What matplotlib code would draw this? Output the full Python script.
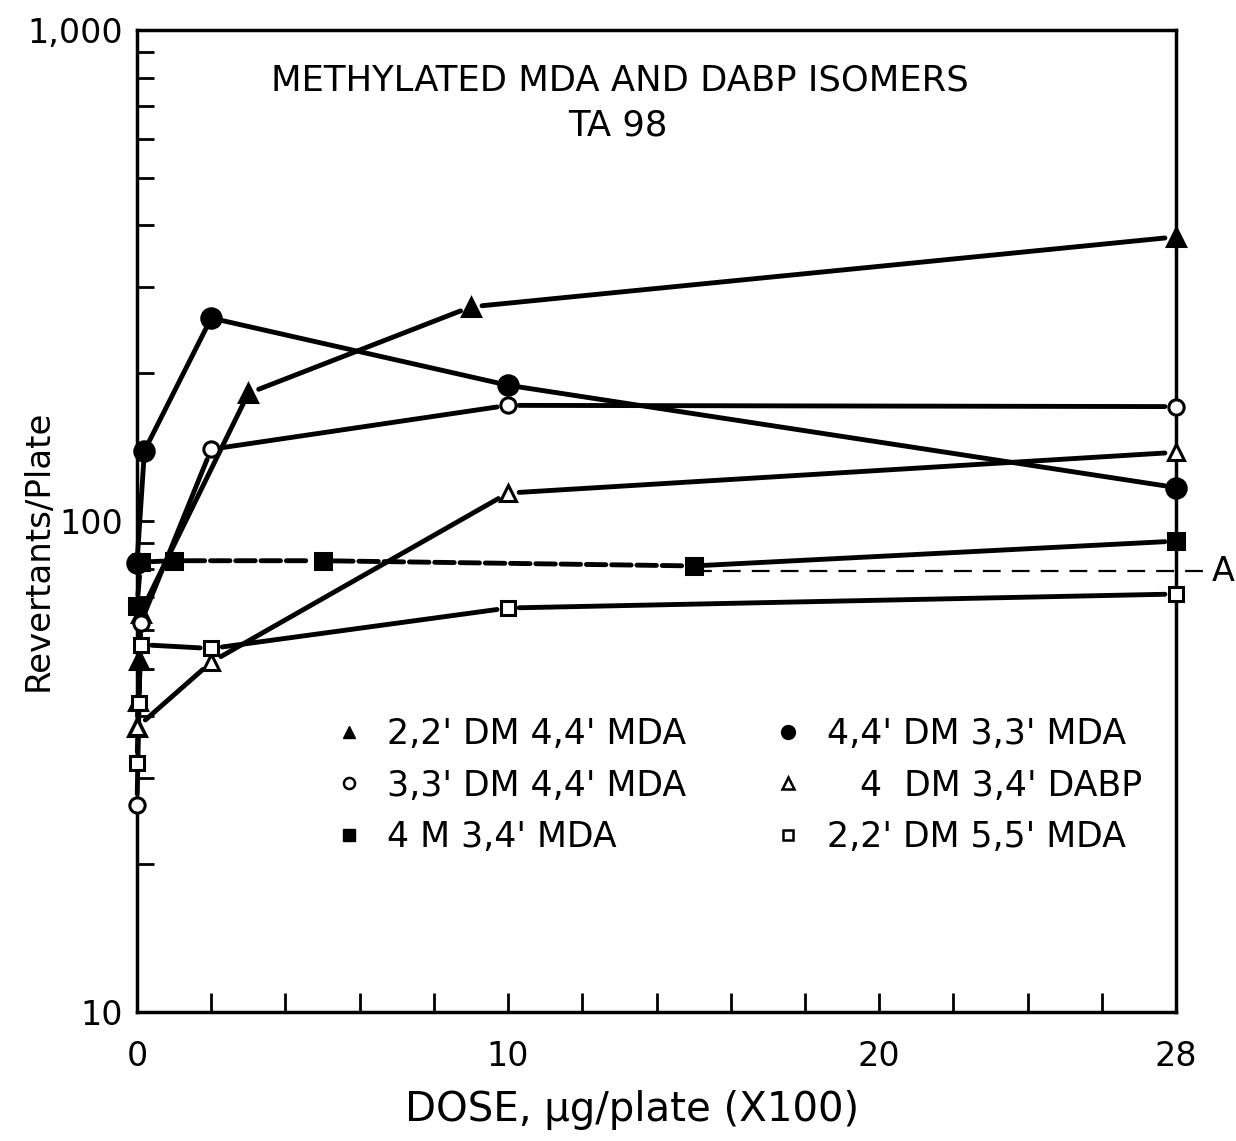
import numpy as np
import matplotlib
matplotlib.use("Agg")
import matplotlib.pyplot as plt
from matplotlib.lines import Line2D
from matplotlib.ticker import FixedLocator, LogLocator, NullFormatter

plt.rcParams['font.family'] = ['DejaVu Sans']

# dose in ug/plate (x100), revertants/plate
x_tri_f = [0, 0.03, 0.06, 0.1, 3, 9, 28]
y_tri_f = [38, 43, 52, 65, 182, 273, 379]
lab_tri_f = "2,2' DM 4,4' MDA"

x_circ_o = [0, 0.1, 2, 10, 28]
y_circ_o = [26.4, 62, 140, 172, 171]
lab_circ_o = "3,3' DM 4,4' MDA"

x_sq_f = [0, 0.1, 1, 5, 15, 28]
y_sq_f = [67, 82.5, 83, 83, 81, 91]
lab_sq_f = "4 M 3,4' MDA"

x_circ_f = [0, 0.2, 2, 10, 28]
y_circ_f = [82, 139, 259, 189, 117]
lab_circ_f = "4,4' DM 3,3' MDA"

x_tri_o = [0, 2, 10, 28]
y_tri_o = [38, 51.6, 114, 138]
lab_tri_o = "   4  DM 3,4' DABP"

x_sq_o = [0, 0.05, 0.1, 2, 10, 28]
y_sq_o = [32.2, 42.6, 56, 55, 66.5, 71]
lab_sq_o = "2,2' DM 5,5' MDA"

# spontaneous level (line A)
x_ref = [15, 28.85]
y_ref = [79, 79]

LW = 3.5
DASH = (0, (4, 1.2))


def draw_series(ax, xs, ys, marker, filled, ms, dashed_until=None):
    # segments stop short of the markers, like the hand-drawn original
    for i in range(len(xs) - 1):
        ls = DASH if dashed_until is not None and xs[i + 1] <= dashed_until else '-'
        ax.annotate('', xy=(xs[i + 1], ys[i + 1]), xytext=(xs[i], ys[i]),
                    arrowprops=dict(arrowstyle='-', lw=LW, color='k',
                                    shrinkA=8, shrinkB=8, linestyle=ls),
                    annotation_clip=False)
    ax.plot(xs, ys, ls='none', marker=marker, ms=ms,
            mfc='k' if filled else 'white', mec='k', mew=2.2,
            clip_on=False, zorder=4)


fig = plt.figure(figsize=(12.36, 11.41), dpi=100)
ax = fig.add_axes([137 / 1236, 1 - 1012 / 1141, 1039 / 1236, 982 / 1141])
ax.set_yscale('log')
ax.set_xlim(0, 28)
ax.set_ylim(10, 1000)

draw_series(ax, x_tri_f, y_tri_f, '^', True, 13)
draw_series(ax, x_circ_o, y_circ_o, 'o', False, 11)
draw_series(ax, x_sq_f, y_sq_f, 's', True, 11, dashed_until=15)
draw_series(ax, x_circ_f, y_circ_f, 'o', True, 14)
draw_series(ax, x_tri_o, y_tri_o, '^', False, 11)
draw_series(ax, x_sq_o, y_sq_o, 's', False, 10)

ax.plot(x_ref, y_ref, color='k', lw=1.6, ls=(0, (8, 5)), clip_on=False)
ax.text(x_ref[1] + 0.12, y_ref[1], 'A', fontsize=24, va='center', ha='left')

for s in ax.spines.values():
    s.set_linewidth(2.5)

ax.xaxis.set_major_locator(FixedLocator([0, 10, 20, 28]))
ax.xaxis.set_minor_locator(FixedLocator([2, 4, 6, 8, 12, 14, 16, 18, 22, 24, 26]))
ax.set_xticklabels(['0', '10', '20', '28'])
ax.tick_params(axis='x', which='both', direction='in', length=14, width=2,
               labelsize=24, pad=20, top=False)

ax.yaxis.set_major_locator(FixedLocator([10, 100, 1000]))
ax.yaxis.set_minor_locator(LogLocator(base=10, subs=np.arange(2, 10)))
ax.yaxis.set_minor_formatter(NullFormatter())
ax.set_yticklabels(['10', '100', '1,000'])
ax.tick_params(axis='y', which='both', direction='in', length=12, width=2,
               labelsize=24, pad=10, right=False)

ax.text(0.465, 0.949, 'METHYLATED MDA AND DABP ISOMERS', transform=ax.transAxes,
        ha='center', va='center', fontsize=25.5)
ax.text(0.463, 0.903, 'TA 98', transform=ax.transAxes,
        ha='center', va='center', fontsize=25.5)

fig.text(38 / 1236, 1 - 550 / 1141, 'Revertants/Plate', rotation=90,
         ha='center', va='center', fontsize=24.5)
fig.text(632 / 1236, 1 - 1110 / 1141, 'DOSE, µg/plate (X100)',
         ha='center', va='center', fontsize=29)

handles = [
    Line2D([], [], ls='none', marker='^', ms=9, mfc='k', mec='k'),
    Line2D([], [], ls='none', marker='o', ms=8, mfc='white', mec='k', mew=1.8),
    Line2D([], [], ls='none', marker='s', ms=8, mfc='k', mec='k'),
    Line2D([], [], ls='none', marker='o', ms=10, mfc='k', mec='k'),
    Line2D([], [], ls='none', marker='^', ms=8, mfc='white', mec='k', mew=1.8),
    Line2D([], [], ls='none', marker='s', ms=7, mfc='white', mec='k', mew=1.8),
]
labels = [lab_tri_f, lab_circ_o, lab_sq_f, lab_circ_f, lab_tri_o, lab_sq_o]
ax.legend(handles, labels, ncol=2, loc='upper left',
          bbox_to_anchor=(0.157, 0.332), frameon=False, fontsize=25,
          handlelength=1.0, handletextpad=0.6, labelspacing=0.5,
          columnspacing=2.45)

fig.savefig('out.png', dpi=100)
